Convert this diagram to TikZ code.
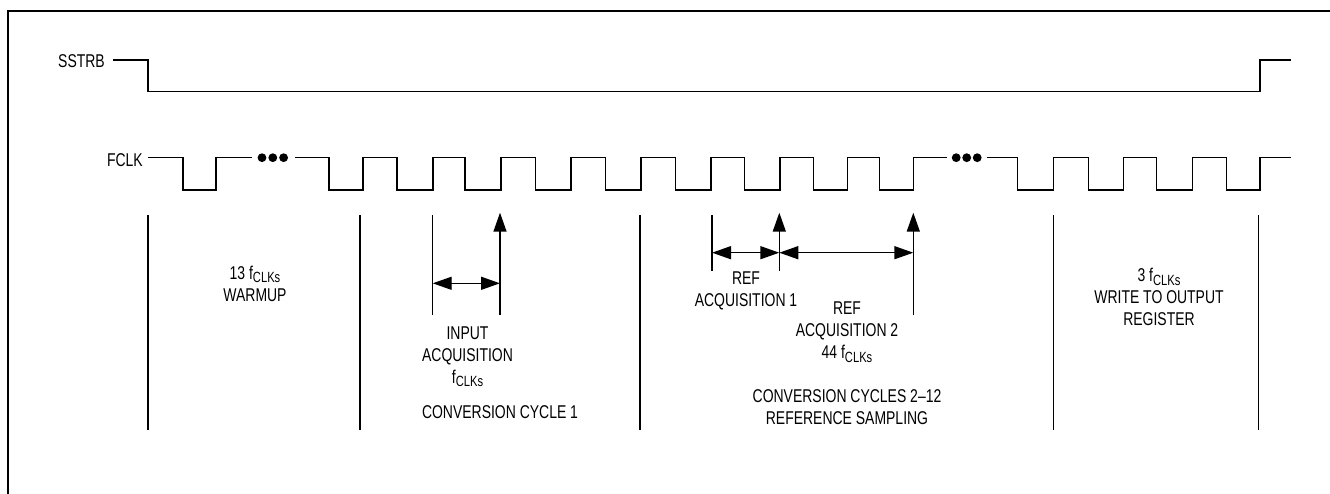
\documentclass[tikz,border=0pt]{standalone}
\usepackage{fontspec}
\setmainfont{Liberation Sans}[FakeStretch=0.755]
\usetikzlibrary{arrows.meta}
\newcommand\fclksub{f\raisebox{-3.4pt}{\fontsize{14.8}{14.8}\selectfont CLKs}}
\begin{document}
\begin{tikzpicture}[x=1pt,y=-1pt,
  wave/.style={line width=1.4pt, line join=miter},
  marker/.style={line width=1.4pt},
  dimarrow/.style={line width=1.4pt, {Triangle[length=19pt,width=13pt]}-{Triangle[length=19pt,width=13pt]}},
  uparrow/.style={line width=1.4pt, -{Triangle[length=19pt,width=13pt]}},
  lbl/.style={align=center, inner sep=0pt, anchor=base, font=\fontsize{18.5}{22}\selectfont},
  sig/.style={inner sep=0pt, anchor=base east, font=\fontsize{18.5}{22}\selectfont},
  dot/.style={fill=black, draw=none}]
\useasboundingbox (0,0) rectangle (1330,494);
% frame (only top and left edges visible)
\draw[line width=2.2pt] (8.3,494) -- (8.3,11) -- (1330,11);

% signal names
\node[sig] (sstrb) at (105,67.5) {SSTRB};
\node[sig] (fclk) at (143,166.5) {FCLK};

% SSTRB waveform
\draw[wave] (113,60) -| (148,91.7) -| (1260,60) -- (1290.7,60);

% FCLK waveform
\draw[wave] (148,157.7) -| (183,190) -| (216,157.7) -- (251.7,157.7);
\draw[wave] (295,157.7) -| (329,190) -| (363,157.7) -| (397,190) -| (433,157.7)
  -| (465,190) -| (501,157.7) -| (535.7,190) -| (571,157.7) -| (605.7,190)
  -| (641,157.7) -| (675.7,190) -| (711,157.7) -| (744.3,190) -| (780,157.7)
  -| (813.3,190) -| (847.3,157.7) -| (879.3,190) -| (913.3,157.7) -- (946.7,157.7);
\draw[wave] (986.7,157.7) -| (1017.7,190) -| (1053.3,157.7) -| (1088.3,190)
  -| (1123.3,157.7) -| (1156.7,190) -| (1192.3,157.7) -| (1226.7,190)
  -| (1260,157.7) -- (1290.7,157.7);
% ellipsis dots
\fill[dot] (262,157.7) circle (4.4) (272.8,157.7) circle (4.4) (283.6,157.7) circle (4.4);
\fill[dot] (956.2,157.7) circle (4.4) (966.7,157.7) circle (4.4) (977.2,157.7) circle (4.4);

% section markers
\coordinate (m1t) at (148,215);  \coordinate (m1b) at (148,430);
\coordinate (m2t) at (360,215);  \coordinate (m2b) at (360,430);
\coordinate (m3t) at (640,215);  \coordinate (m3b) at (640,430);
\coordinate (m4t) at (1053.3,215); \coordinate (m4b) at (1053.3,430);
\coordinate (m5t) at (1258.3,215); \coordinate (m5b) at (1258.3,430);
\draw[marker] (m1t) -- (m1b);
\draw[marker] (m2t) -- (m2b);
\draw[marker] (m3t) -- (m3b);
\draw[marker] (m4t) -- (m4b);
\draw[marker] (m5t) -- (m5b);

% input acquisition
\coordinate (ia1t) at (432.7,215); \coordinate (ia1b) at (432.7,315);
\coordinate (ia2t) at (500,212.7); \coordinate (ia2b) at (500,315);
\coordinate (iaL) at (432.7,283.3); \coordinate (iaR) at (500,283.3);
\draw[marker] (ia1t) -- (ia1b);
\draw[uparrow] (ia2b) -- (ia2t);
\draw[dimarrow] (iaL) -- (iaR);

% reference acquisition
\coordinate (ra1t) at (712,215); \coordinate (ra1b) at (712,270.7);
\coordinate (ra2t) at (779.3,212.7); \coordinate (ra2b) at (779.3,270.7);
\coordinate (ra3t) at (913.3,212.7); \coordinate (ra3b) at (913.3,315);
\coordinate (raL) at (712,252.7); \coordinate (raM) at (779.3,252.7); \coordinate (raR) at (913.3,252.7);
\draw[marker] (ra1t) -- (ra1b);
\draw[uparrow] (ra2b) -- (ra2t);
\draw[uparrow] (ra3b) -- (ra3t);
\draw[dimarrow] (raL) -- (raM);
\draw[dimarrow] (raM) -- (raR);

% labels (base anchor = baseline of the last line)
\node[lbl] (warm) at (255,301.5) {13 \fclksub\\WARMUP};
\node[lbl] (inacq) at (467.5,383.3) {INPUT\\ACQUISITION\\\fclksub};
\node[lbl] (conv1) at (500,418.3) {CONVERSION CYCLE 1};
\node[lbl] (ref1) at (746,306.7) {REF\\ACQUISITION 1};
\node[lbl] (ref2) at (847,358.8) {REF\\ACQUISITION 2\\44 \fclksub};
\node[lbl] (conv2) at (847,424.5) {CONVERSION CYCLES 2–12\\REFERENCE SAMPLING};
\node[lbl] (write) at (1159,325.7) {3 \fclksub\\WRITE TO OUTPUT\\REGISTER};
\end{tikzpicture}
\end{document}
